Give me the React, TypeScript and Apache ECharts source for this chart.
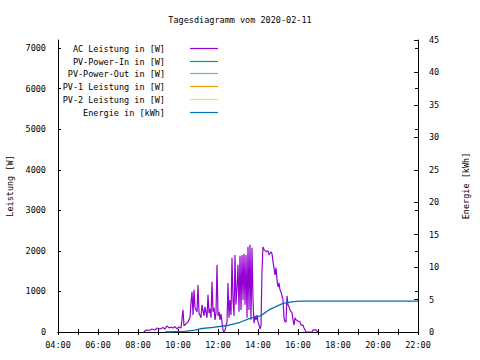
import React, { useEffect, useRef } from "react";
import * as echarts from "echarts";

const titleText = "Tagesdiagramm vom 2020-02-11";
const seriesNames = [
  "AC Leistung in [W]",
  "PV-Power-In in [W]",
  "PV-Power-Out in [W]",
  "PV-1 Leistung in [W]",
  "PV-2 Leistung in [W]",
  "Energie in [kWh]",
];
const seriesColors = ["#9400d3", "#009e73", "#56b4e9", "#e69f00", "#f0e442", "#0072b2"];

const acTimes = ["08:18","08:24","08:36","08:42","08:51","08:57","09:06","09:15","09:21","09:27","09:33","09:39","09:45","09:51","09:57","10:03","10:09","10:15","10:18","10:24","10:30","10:36","10:39","10:42","10:45","10:48","10:51","10:57","11:00","11:03","11:09","11:12","11:18","11:21","11:27","11:30","11:33","11:36","11:39","11:42","11:45","11:48","11:51","11:54","11:57","12:00","12:03","12:06","12:09","12:12","12:15","12:18","12:21","12:24","12:27","12:30","12:33","12:36","12:39","12:42","12:45","12:48","12:51","12:54","12:57","13:00","13:03","13:06","13:09","13:12","13:15","13:18","13:21","13:24","13:27","13:30","13:33","13:36","13:39","13:42","13:45","13:48","13:51","13:54","13:57","14:00","14:03","14:06","14:09","14:12","14:15","14:18","14:24","14:30","14:33","14:39","14:42","14:45","14:48","14:51","14:54","14:57","15:00","15:03","15:06","15:09","15:12","15:15","15:18","15:21","15:24","15:27","15:30","15:33","15:36","15:39","15:42","15:45","15:48","15:51","15:54","16:00","16:06","16:09","16:15","16:18","16:21","16:24","16:42","16:45","16:54","17:00"];
const acWatts = [0,50,40,75,50,100,75,110,75,150,100,125,100,135,75,125,100,545,150,200,250,350,720,990,420,1040,600,500,1160,470,350,670,400,620,350,915,470,570,350,1240,500,600,300,470,1660,400,500,300,450,250,50,0,50,150,250,1210,350,790,420,1830,790,400,1900,670,1090,1660,500,1880,545,1900,790,1930,670,1900,350,2100,545,2150,300,2080,790,220,400,300,420,250,170,75,150,1530,2100,2030,1980,2000,1900,1980,1930,1730,1580,1410,1580,1290,1110,1210,1040,990,890,790,350,250,250,890,670,620,545,500,470,300,170,350,300,270,250,170,170,100,50,0,0,50,50,0];

const pvPowerIn: number[][] = [];
const pvPowerOut: number[][] = [];
const pv1: number[][] = [];
const pv2: number[][] = [];

const energyTimes = ["09:21","10:21","10:51","11:06","11:45","12:27","13:06","13:36","14:06","14:15","14:36","14:57","15:15","15:36","16:03","22:00"];
const energyKWh = [0,0.1,0.3,0.5,0.7,1.0,1.5,2.1,2.45,2.75,3.5,4.0,4.4,4.6,4.75,4.75];

const leftTicks = { min: 0, max: 7200, interval: 1000 };
const rightTicks = { min: 0, max: 45, interval: 5 };
const xTicks = { min: 4, max: 22, interval: 1 };

const toH = (s: string) => {
  const [h, m] = s.split(":").map(Number);
  return h + m / 60;
};

const FONT = "DejaVu Sans Mono";

export default function App() {
  const ref = useRef<HTMLDivElement>(null);
  useEffect(() => {
    if (!ref.current) return;
    const chart = echarts.init(ref.current, null, { renderer: "svg" });
    const txt = { fontFamily: FONT, fontSize: 8.5, color: "#000" };
    const axisLine = { show: true, lineStyle: { color: "#000", width: 1 } };
    const fmtX = (v: number) =>
      v % 2 === 0 ? `${String(v).padStart(2, "0")}:00` : "";

    const legendTop = 48;
    const legendStep = 12.7;
    const legendGraphics: any[] = [];
    seriesNames.forEach((n, i) => {
      const y = Math.round(legendTop + i * legendStep) + 0.5;
      legendGraphics.push({
        type: "text",
        x: 165,
        y,
        style: { text: n, textAlign: "right", textVerticalAlign: "middle", font: `8.5px "${FONT}"`, fill: "#000" },
      });
      legendGraphics.push({
        type: "line",
        shape: { x1: 190, y1: y, x2: 218, y2: y },
        style: { stroke: seriesColors[i], lineWidth: 1.2 },
      });
    });

    const mkLine = (name: string, data: number[][], color: string, yIdx: number, w = 1) => ({
      name,
      type: "line",
      data,
      xAxisIndex: 0,
      yAxisIndex: yIdx,
      showSymbol: false,
      symbol: "none",
      lineStyle: { color, width: w },
      itemStyle: { color },
      z: 3,
    });

    chart.setOption({
      animation: false,
      backgroundColor: "#fff",
      title: {
        text: titleText,
        left: "center",
        top: 10,
        textStyle: { ...txt, fontWeight: "normal" },
      },
      grid: { left: 58, right: 62, top: 40, bottom: 28, containLabel: false, outerBoundsMode: "none" },
      xAxis: [
        {
          type: "value",
          position: "bottom",
          ...xTicks,
          axisLine,
          axisTick: { show: true, inside: true, length: 3, lineStyle: { color: "#000" } },
          axisLabel: { ...txt, margin: 8, formatter: fmtX, showMinLabel: true, showMaxLabel: true },
          splitLine: { show: false },
        },
        {
          type: "value",
          position: "top",
          ...xTicks,
          axisLine,
          axisTick: { show: true, inside: true, length: 3, lineStyle: { color: "#000" } },
          axisLabel: { show: false },
          splitLine: { show: false },
        },
      ],
      yAxis: [
        {
          type: "value",
          position: "left",
          ...leftTicks,
          name: "Leistung [W]",
          nameLocation: "middle",
          nameGap: 44,
          nameRotate: 90,
          nameTextStyle: { ...txt },
          axisLine,
          axisTick: { show: true, inside: true, length: 3, lineStyle: { color: "#000" } },
          axisLabel: { ...txt, margin: 12, showMaxLabel: false, formatter: (v: number) => String(v) },
          splitLine: { show: false },
        },
        {
          type: "value",
          position: "right",
          ...rightTicks,
          name: "Energie [kWh]",
          nameLocation: "middle",
          nameGap: 43,
          nameRotate: 90,
          nameTextStyle: { ...txt },
          axisLine,
          axisTick: { show: true, inside: true, length: 4, lineStyle: { color: "#000" } },
          axisLabel: { ...txt, margin: 11, formatter: (v: number) => String(v) },
          splitLine: { show: false },
        },
        {
          type: "value",
          position: "right",
          offset: 0,
          ...leftTicks,
          axisLine: { show: false },
          axisTick: { show: true, inside: true, length: 3, lineStyle: { color: "#000" } },
          axisLabel: { show: false },
          splitLine: { show: false },
        },
      ],
      graphic: legendGraphics,
      series: [
        mkLine(seriesNames[0], acTimes.map((t, i) => [toH(t), acWatts[i]]), seriesColors[0], 0, 1.2),
        mkLine(seriesNames[1], pvPowerIn, seriesColors[1], 0),
        mkLine(seriesNames[2], pvPowerOut, seriesColors[2], 0),
        mkLine(seriesNames[3], pv1, seriesColors[3], 0),
        mkLine(seriesNames[4], pv2, seriesColors[4], 0),
        mkLine(seriesNames[5], energyTimes.map((t, i) => [toH(t), energyKWh[i]]), seriesColors[5], 1, 1.3),
      ],
    });
    return () => chart.dispose();
  }, []);
  return <div ref={ref} style={{ width: 480, height: 360, position: "absolute", left: 0, top: 0 }} />;
}
